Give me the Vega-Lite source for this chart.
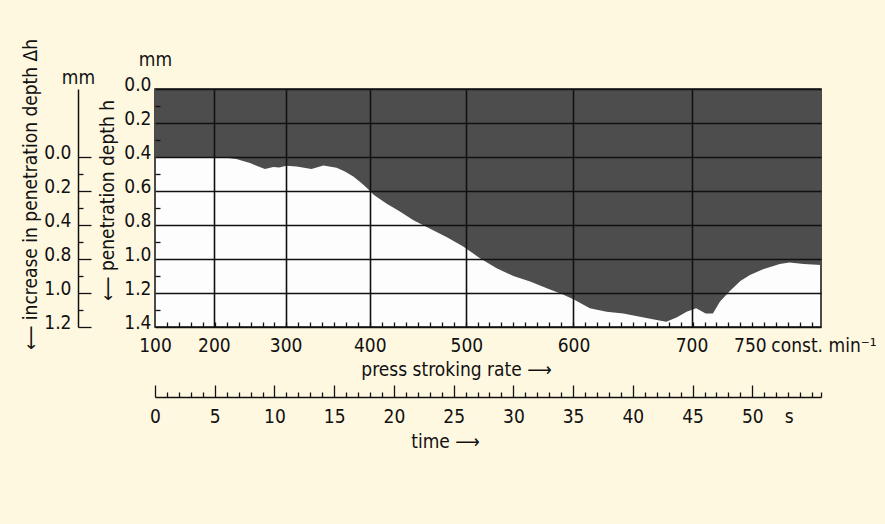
{
  "$schema": "https://vega.github.io/schema/vega-lite/v6.json",
  "width": 666,
  "height": 238,
  "autosize": {"type": "none"},
  "padding": {"left": 155, "top": 89, "right": 64, "bottom": 197},
  "background": "#FFF8E1",
  "data": {"values": [
    {"t": 0, "h": 0.4}, {"t": 5.5, "h": 0.4}, {"t": 6.8, "h": 0.412}, {"t": 7.95, "h": 0.436},
    {"t": 9.2, "h": 0.471}, {"t": 9.9, "h": 0.459}, {"t": 10.4, "h": 0.462}, {"t": 11.0, "h": 0.452},
    {"t": 11.85, "h": 0.456}, {"t": 13.1, "h": 0.471}, {"t": 14.1, "h": 0.45}, {"t": 15.2, "h": 0.463},
    {"t": 15.9, "h": 0.485}, {"t": 16.6, "h": 0.515}, {"t": 17.3, "h": 0.554}, {"t": 17.85, "h": 0.589},
    {"t": 18.3, "h": 0.622}, {"t": 19.4, "h": 0.675}, {"t": 20.5, "h": 0.72}, {"t": 21.6, "h": 0.77},
    {"t": 22.7, "h": 0.81}, {"t": 24.4, "h": 0.87}, {"t": 25.8, "h": 0.927}, {"t": 27.2, "h": 0.995},
    {"t": 28.6, "h": 1.054}, {"t": 30.0, "h": 1.10}, {"t": 31.4, "h": 1.133}, {"t": 32.8, "h": 1.172},
    {"t": 34.2, "h": 1.21}, {"t": 35.1, "h": 1.24}, {"t": 36.4, "h": 1.29}, {"t": 37.8, "h": 1.31},
    {"t": 39.2, "h": 1.32}, {"t": 40.6, "h": 1.339}, {"t": 42.0, "h": 1.359}, {"t": 42.8, "h": 1.369},
    {"t": 43.7, "h": 1.343}, {"t": 44.5, "h": 1.31}, {"t": 45.3, "h": 1.29}, {"t": 46.1, "h": 1.32},
    {"t": 46.7, "h": 1.32}, {"t": 47.3, "h": 1.25}, {"t": 48.1, "h": 1.19}, {"t": 49.0, "h": 1.13},
    {"t": 49.8, "h": 1.094}, {"t": 50.9, "h": 1.06}, {"t": 52.3, "h": 1.03}, {"t": 53.1, "h": 1.02},
    {"t": 54.3, "h": 1.03}, {"t": 55.75, "h": 1.035}
  ]},
  "resolve": {"axis": {"x": "independent", "y": "independent"}},
  "layer": [
    {
      "mark": {"type": "area", "color": "#4d4d4d", "interpolate": "linear"},
      "encoding": {
        "x": {"field": "t", "type": "quantitative", "scale": {"domain": [0, 55.75], "nice": false, "zero": false},
          "axis": {"orient": "bottom", "values": [0, 4.93, 10.93, 17.98, 26.06, 35.03, 44.91, 49.8, 51.55],
            "labelExpr": "datum.value < 1 ? '100' : datum.value < 6 ? '200' : datum.value < 12 ? '300' : datum.value < 19 ? '400' : datum.value < 27 ? '500' : datum.value < 36 ? '600' : datum.value < 46 ? '700' : datum.value < 51 ? '750' : 'const. min⁻¹'",
            "ticks": false, "domain": false, "grid": true, "gridWidth": 1.6,
            "gridOpacity": {"condition": {"test": "datum.value < 1 || datum.value > 49", "value": 0}, "value": 1},
            "labelPadding": 9, "labelFlush": false, "labelOverlap": false, "labelBound": false,
            "labelAlign": {"condition": {"test": "datum.value > 51", "value": "left"}, "value": "center"},
            "title": "press stroking rate ⟶", "titleX": 301, "titlePadding": 5, "zindex": 1}},
        "y": {"field": "h", "type": "quantitative", "scale": {"domain": [0, 1.4], "reverse": true, "nice": false, "zero": false},
          "axis": {"orient": "left", "values": [0, 0.2, 0.4, 0.6, 0.8, 1.0, 1.2, 1.4], "format": ".1f",
            "ticks": false, "domain": false, "grid": true, "gridWidth": 1.6,
            "labelPadding": 4, "labelBaseline": "alphabetic", "labelOffset": 1,
            "title": "⟵ penetration depth h", "titleX": -48, "titleY": 111, "titleAlign": "center", "titleBaseline": "middle", "titleAngle": -90, "zindex": 1}},
        "y2": {"datum": 0}
      }
    },
    {
      "mark": {"type": "point", "opacity": 0},
      "encoding": {
        "x": {"field": "t", "type": "quantitative",
          "axis": {"orient": "bottom", "values": [1,2,3,4,5,6,7,8,9,10,11,12,13,14,15,16,17,18,19,20,21,22,23,24,25,26,27,28,29,30,31,32,33,34,35,36,37,38,39,40,41,42,43,44,45,46,47,48,49,50,51,52,53,54,55],
            "tickSize": -5, "tickWidth": 1.3, "labels": false, "domain": false, "grid": false, "title": null, "zindex": 1}},
        "y": {"field": "h", "type": "quantitative",
          "axis": {"orient": "left", "values": [0.1, 0.3, 0.5, 0.7, 0.9, 1.1, 1.3],
            "tickSize": -5, "tickWidth": 1.3, "labels": false, "domain": false, "grid": false, "zindex": 1,
            "title": "mm", "titleAngle": 0, "titleX": 0, "titleY": -30, "titleAlign": "center", "titleBaseline": "middle"}}
      }
    },
    {
      "mark": {"type": "point", "opacity": 0},
      "encoding": {
        "x": {"field": "t", "type": "quantitative",
          "axis": {"orient": "bottom", "offset": 70, "values": [0, 5, 10, 15, 20, 25, 30, 35, 40, 45, 50, 53.05],
            "format": "d", "labelExpr": "datum.value > 52 ? 's' : datum.label",
            "tickSize": -12, "tickWidth": 1.3,
            "tickOpacity": {"condition": {"test": "datum.value > 52", "value": 0}, "value": 1},
            "labelPadding": 22, "labelFlush": false, "labelOverlap": false, "labelBound": false,
            "domain": true, "domainWidth": 1.5, "grid": false,
            "title": "time ⟶", "titleX": 290, "titlePadding": 6}},
        "y": {"field": "h", "type": "quantitative",
          "axis": {"orient": "left", "offset": 77, "values": [0.4, 0.6, 0.8, 1.0, 1.2, 1.4],
            "labelExpr": "datum.value < 0.5 ? '0.0' : datum.value < 0.7 ? '0.2' : datum.value < 0.9 ? '0.4' : datum.value < 1.1 ? '0.8' : datum.value < 1.3 ? '1.0' : '1.2'",
            "tickSize": -13, "tickWidth": 1.3, "labelPadding": 20, "labelBaseline": "alphabetic", "labelOffset": 1,
            "domain": true, "domainWidth": 1.5, "grid": false,
            "title": "⟵ increase in penetration depth Δh", "titleX": -48, "titleY": 105, "titleAlign": "center", "titleBaseline": "middle", "titleAngle": -90}}
      }
    },
    {
      "mark": {"type": "point", "opacity": 0},
      "encoding": {
        "x": {"field": "t", "type": "quantitative",
          "axis": {"orient": "bottom", "offset": 70, "values": [1,2,3,4,6,7,8,9,11,12,13,14,16,17,18,19,21,22,23,24,26,27,28,29,31,32,33,34,36,37,38,39,41,42,43,44,46,47,48,49,51,52,53,54,55,55.75],
            "tickSize": -5, "tickWidth": 1.3, "labels": false, "domain": false, "grid": false, "title": null}},
        "y": {"field": "h", "type": "quantitative",
          "axis": {"orient": "left", "offset": 77, "values": [0.5, 0.7, 0.9, 1.1, 1.3],
            "tickSize": -5, "tickWidth": 1.3, "labels": false, "domain": false, "grid": false,
            "title": "mm", "titleAngle": 0, "titleX": 0, "titleY": -12, "titleAlign": "center", "titleBaseline": "middle"}}
      }
    }
  ],
  "config": {
    "font": "Liberation Sans Narrow, Arial Narrow, DejaVu Sans Condensed, sans-serif",
    "axis": {
      "labelFont": "Liberation Sans Narrow, Arial Narrow, DejaVu Sans Condensed, sans-serif",
      "titleFont": "Liberation Sans Narrow, Arial Narrow, DejaVu Sans Condensed, sans-serif",
      "labelFontSize": 19, "titleFontSize": 19, "titleFontWeight": "normal",
      "labelColor": "#111", "titleColor": "#111", "domainColor": "#111", "tickColor": "#111", "gridColor": "#111"
    },
    "view": {"fill": "#FDFDFD", "stroke": "#111", "strokeWidth": 1.5}
  }
}
